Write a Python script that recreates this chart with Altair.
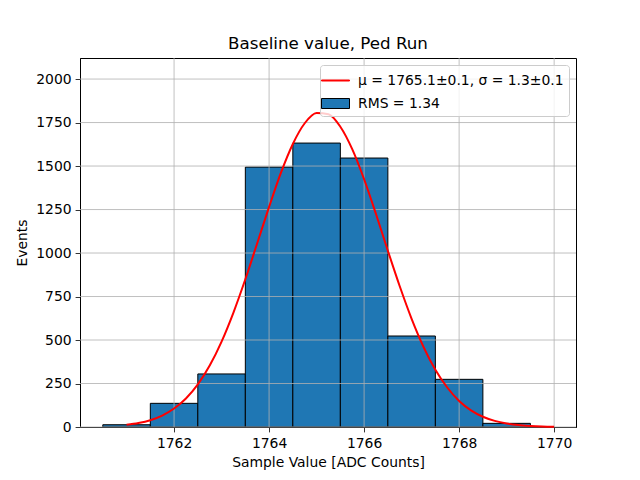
import altair as alt
import pandas as pd

# Histogram bins (edges) and counts
bin_left = [1760.5, 1761.5, 1762.5, 1763.5, 1764.5, 1765.5, 1766.5, 1767.5, 1768.5]
bin_right = [1761.5, 1762.5, 1763.5, 1764.5, 1765.5, 1766.5, 1767.5, 1768.5, 1769.5]
counts = [13, 136, 305, 1494, 1632, 1546, 523, 274, 21]

# Fitted curve
fit_x = [1761.0, 1761.25, 1761.5, 1761.75, 1762.0, 1762.25, 1762.5, 1762.75,
         1763.0, 1763.25, 1763.5, 1763.75, 1764.0, 1764.25, 1764.5, 1764.75,
         1765.0, 1765.25, 1765.5, 1765.75, 1766.0, 1766.25, 1766.5, 1766.75,
         1767.0, 1767.25, 1767.5, 1767.75, 1768.0, 1768.25, 1768.5, 1768.75,
         1769.0, 1769.25, 1769.5, 1769.75, 1770.0]
fit_y = [12.5, 22.6, 39, 65.5, 106, 164, 245, 353,
         491, 658, 849, 1056, 1265, 1462, 1627, 1746,
         1805, 1798, 1726, 1597, 1424, 1224, 1013, 809,
         622, 461, 329, 227, 150, 96, 59, 35,
         20, 11, 6, 3, 1.5]

x_ticks = [1762, 1764, 1766, 1768, 1770]
y_ticks = [0, 250, 500, 750, 1000, 1250, 1500, 1750, 2000]

fit_label = "μ = 1765.1±0.1, σ = 1.3±0.1"
hist_label = "RMS = 1.34"
legend_labels = [fit_label, hist_label]

FONT = "DejaVu Sans"
BLUE = "#1f77b4"

hist_df = pd.DataFrame({"left": bin_left, "right": bin_right, "count": counts})
fit_df = pd.DataFrame({"x": fit_x, "y": fit_y})
xg_df = pd.DataFrame({"v": x_ticks})
yg_df = pd.DataFrame({"v": y_ticks})
leg_df = pd.DataFrame({"lbl": legend_labels})

xscale = alt.Scale(domain=[1760.02, 1770.46], nice=False, zero=False)
yscale = alt.Scale(domain=[0, 2121], nice=False, zero=False)

xaxis = alt.Axis(values=x_ticks, format="d", title="Sample Value [ADC Counts]", grid=False,
                 tickSize=4.9, tickWidth=0.8, tickColor="black", domainColor="black",
                 labelPadding=5, labelFont=FONT, labelFontSize=13.9, labelColor="black",
                 titleFont=FONT, titleFontSize=13.9, titleFontWeight="normal",
                 titleColor="black", titlePadding=5)
yaxis = alt.Axis(values=y_ticks, format="d", title="Events", grid=False,
                 tickSize=4.9, tickWidth=0.8, tickColor="black", domainColor="black",
                 labelPadding=4, labelFont=FONT, labelFontSize=13.9, labelColor="black",
                 titleFont=FONT, titleFontSize=13.9, titleFontWeight="normal",
                 titleColor="black", titlePadding=6)

bars = alt.Chart(hist_df).mark_bar(fill=BLUE, stroke="black", strokeWidth=1).encode(
    x=alt.X("left:Q", scale=xscale, axis=xaxis),
    x2="right:Q",
    y=alt.Y("count:Q", scale=yscale, axis=yaxis),
    y2=alt.datum(0),
)

vgrid = alt.Chart(xg_df).mark_rule(color="#b0b0b0", strokeWidth=0.8).encode(
    x=alt.X("v:Q", scale=xscale, axis=xaxis)
)
hgrid = alt.Chart(yg_df).mark_rule(color="#b0b0b0", strokeWidth=0.8).encode(
    y=alt.Y("v:Q", scale=yscale, axis=yaxis)
)

line = alt.Chart(fit_df).mark_line(color="red", strokeWidth=2, interpolate="monotone").encode(
    x=alt.X("x:Q", scale=xscale, axis=xaxis),
    y=alt.Y("y:Q", scale=yscale, axis=yaxis),
)

legend = alt.Legend(
    title=None, orient="top-right", offset=7, padding=5, cornerRadius=3,
    fillColor="rgba(255,255,255,0.8)", strokeColor="#cccccc",
    labelFont=FONT, labelFontSize=13.9, labelColor="black", labelOffset=12,
    labelLimit=400, symbolSize=400, rowPadding=5, symbolOpacity=1, symbolStrokeWidth=1,
)

legend_layer = alt.Chart(leg_df).mark_point(filled=True, opacity=0, size=400, strokeWidth=1).encode(
    shape=alt.Shape("lbl:N", scale=alt.Scale(domain=legend_labels,
                    range=["M-1.4,-0.05H1.4V0.05H-1.4Z", "M-1.4,-0.5H1.4V0.5H-1.4Z"]),
                    legend=legend),
    fill=alt.Fill("lbl:N", scale=alt.Scale(domain=legend_labels, range=["red", BLUE]),
                  legend=legend),
    stroke=alt.Stroke("lbl:N", scale=alt.Scale(domain=legend_labels, range=["red", "black"]),
                      legend=legend),
)

chart = alt.layer(bars, vgrid, hgrid, line, legend_layer).properties(
    width=496, height=369,
    background="white",
    autosize=alt.AutoSizeParams(type="none"),
    padding={"left": 72, "top": 50, "right": 56, "bottom": 53},
    title=alt.TitleParams("Baseline value, Ped Run", font=FONT, fontSize=16.7,
                          fontWeight="normal", color="black", offset=8, dy=16,
                          baseline="alphabetic"),
).configure_view(stroke="black", strokeWidth=1)

chart.save("out.html", embed_options={"renderer": "svg", "actions": False})
